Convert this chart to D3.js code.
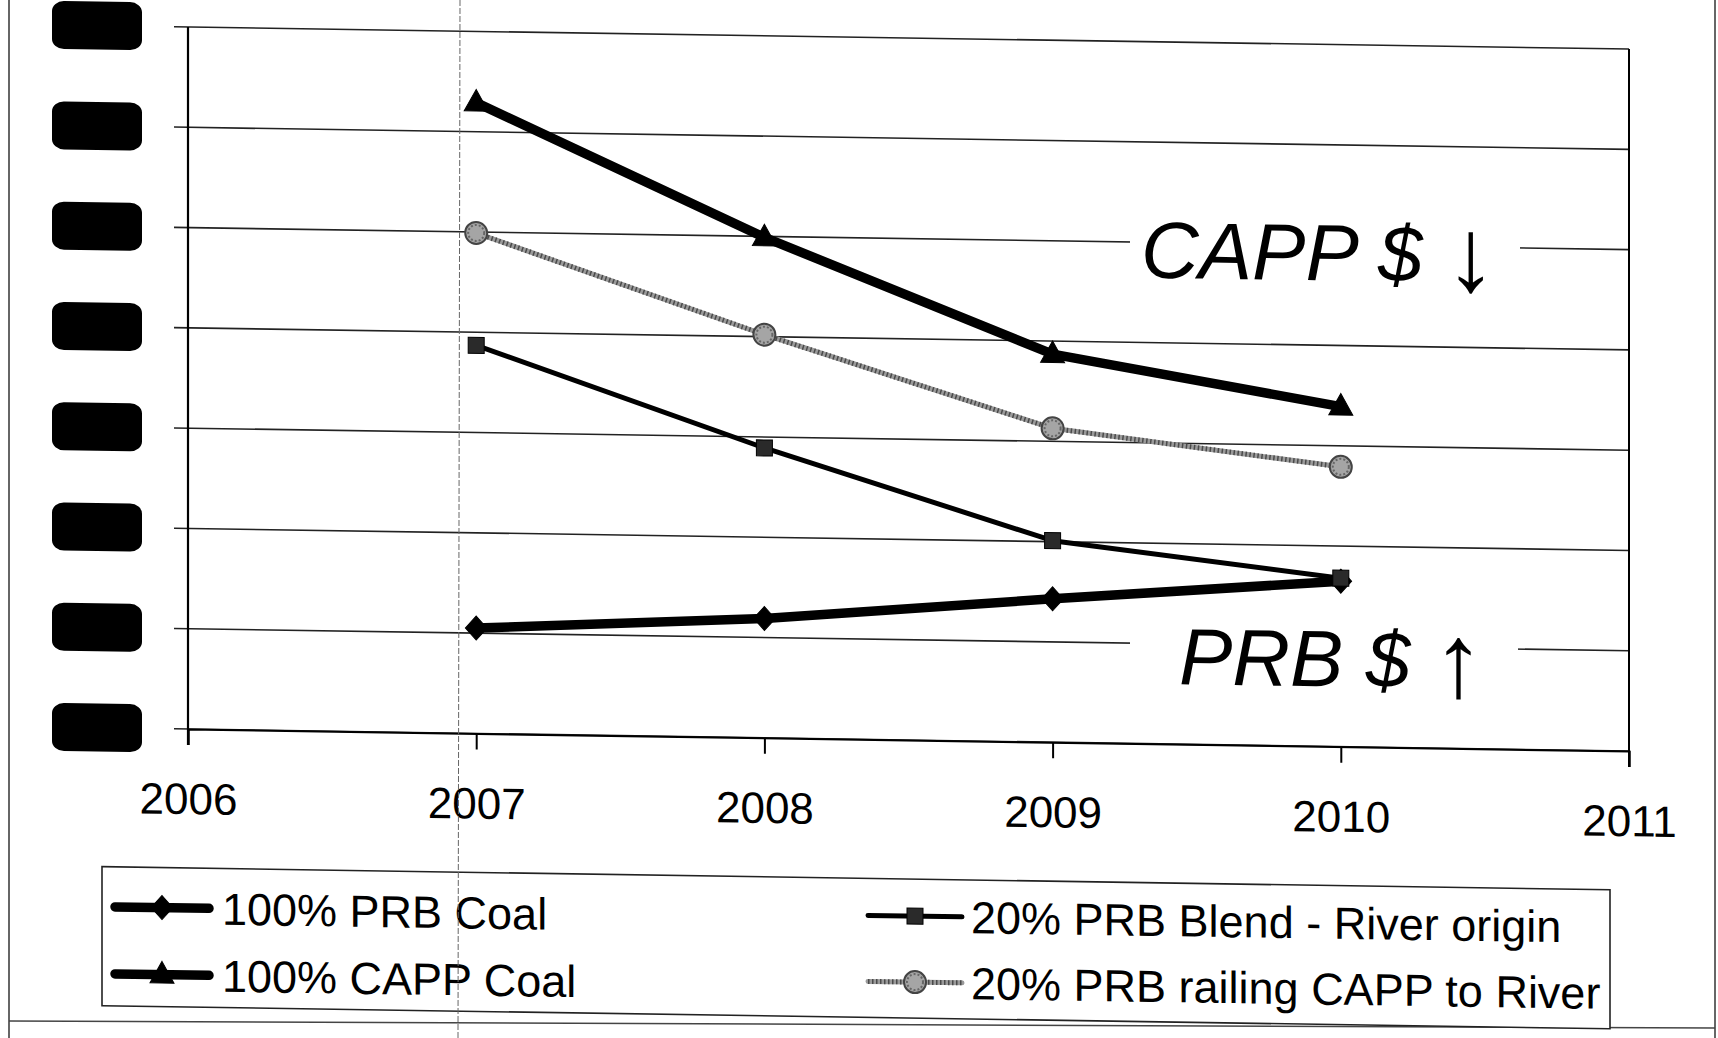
<!DOCTYPE html>
<html><head><meta charset="utf-8">
<script src="https://cdn.jsdelivr.net/npm/d3@7"></script>
<style>html,body{margin:0;padding:0;background:#fff;overflow:hidden}</style>
</head><body>
<svg id="chart" width="1718" height="1038"></svg>
<script>
// ---- data ----
const years = [2007, 2008, 2009, 2010];
const xTicks = [2006, 2007, 2008, 2009, 2010, 2011];
const yTicks = [0, 1, 2, 3, 4, 5, 6, 7];          // labels redacted in the original
const prbCoal = [1.05, 1.19, 1.43, 1.65];
const cappCoal = [6.29, 4.99, 3.87, 3.39];
const riverBlend = [3.87, 2.89, 2.01, 1.68];
const railBlend = [4.99, 4.02, 3.13, 2.79];
const seriesNames = ["100% PRB Coal", "100% CAPP Coal", "20% PRB Blend - River origin", "20% PRB railing CAPP to River"];
const noteCapp = ["CAPP $ ", "\u2193"];
const notePrb = ["PRB $ ", "\u2191"];

// ---- layout ----
const FONT = "'Liberation Sans', Arial, Helvetica, sans-serif";
const L = 188, R = 1629, T = 27, B = 729;
const slope = 0.0153;
const deg = Math.atan(slope) * 180 / Math.PI;

const svg = d3.select("#chart");
svg.append("rect").attr("width", 1718).attr("height", 1038).attr("fill", "#fff");

const x = d3.scaleLinear().domain([2006, 2011]).range([L, R]);
const y = d3.scaleLinear().domain([0, 7]).range([B, T]);

// scan artefacts (page edges, fold)
svg.append("line").attr("x1", 9).attr("x2", 9).attr("y1", 0).attr("y2", 1038).attr("stroke", "#333").attr("stroke-width", 1.5);
svg.append("line").attr("x1", 1715).attr("x2", 1715).attr("y1", 0).attr("y2", 1038).attr("stroke", "#333").attr("stroke-width", 1.5);
svg.append("line").attr("x1", 9).attr("x2", 1715).attr("y1", 1021).attr("y2", 1028).attr("stroke", "#444").attr("stroke-width", 1.5);

// skewed group (scan is slightly tilted)
const g = svg.append("g").attr("transform", `translate(0,${-slope * L}) skewY(${deg})`);

// redaction blobs for y tick labels
g.append("g").selectAll("rect").data(yTicks).join("rect")
  .attr("x", 52).attr("width", 90)
  .attr("y", d => y(d) - 24).attr("height", 48)
  .attr("rx", 12).attr("ry", 10).attr("fill", "#000");

// gridlines (extend left as tick marks)
g.append("g").selectAll("line").data(yTicks).join("line")
  .attr("x1", L - 14).attr("x2", R)
  .attr("y1", d => y(d)).attr("y2", d => y(d))
  .attr("stroke", "#222").attr("stroke-width", 1.6);

// x axis
const xAxis = d3.axisBottom(x).tickValues(xTicks).tickFormat(d3.format("d")).tickSize(16).tickPadding(38);
const xg = g.append("g").attr("transform", `translate(0,${B})`).call(xAxis);
xg.select(".domain").attr("stroke", "#000").attr("stroke-width", 2);
xg.selectAll(".tick line").attr("stroke", "#000").attr("stroke-width", 2);
xg.selectAll(".tick text").attr("font-family", FONT).attr("font-size", 44).attr("fill", "#000");

// y axis line and right border
g.append("line").attr("x1", L).attr("x2", L).attr("y1", T).attr("y2", B + 16).attr("stroke", "#000").attr("stroke-width", 2.2);
g.append("line").attr("x1", R).attr("x2", R).attr("y1", T).attr("y2", B + 16).attr("stroke", "#000").attr("stroke-width", 2);

// annotation boxes + text
function note(parts, tx, ty, box) {
  g.append("rect").attr("x", box[0]).attr("y", box[1]).attr("width", box[2]).attr("height", box[3]).attr("fill", "#fff");
  const t = g.append("text").attr("x", tx).attr("y", ty).attr("font-family", FONT)
    .attr("font-size", 80).attr("font-style", "italic").attr("fill", "#000");
  t.append("tspan").text(parts[0]);
  t.append("tspan").attr("font-style", "normal").attr("font-size", 104).attr("dy", 8).text(parts[1]);
}
note(noteCapp, 1141, 263, [1130, 185, 390, 118]);
note(notePrb, 1179, 669, [1130, 590, 388, 112]);

// symbols
const symbols = {
  diamond: s => `M0,${-s}L${s * 0.9},0L0,${s}L${-s * 0.9},0Z`,
  triangle: s => `M0,${-s * 1.1}L${s},${s * 0.7}L${-s},${s * 0.7}Z`,
  square: s => `M${-s},${-s}H${s}V${s}H${-s}Z`
};

const series = [
  { name: seriesNames[0], values: prbCoal, stroke: "#000", width: 9.5, sym: "diamond", size: 12, fill: "#000" },
  { name: seriesNames[1], values: cappCoal, stroke: "#000", width: 9.5, sym: "triangle", size: 12, fill: "#000" },
  { name: seriesNames[2], values: riverBlend, stroke: "#000", width: 5, sym: "square", size: 8, fill: "#2a2a2a" },
  { name: seriesNames[3], values: railBlend, stroke: "#9a9a9a", width: 5, sym: "circle", size: 11, fill: "#a5a5a5", dots: true }
];

const line = d3.line().x((d, i) => x(years[i])).y(d => y(d));

function drawMarker(sel, s) {
  if (s.sym === "circle") {
    sel.append("circle").attr("r", s.size).attr("fill", s.fill).attr("stroke", "#444").attr("stroke-width", 2);
    sel.append("circle").attr("r", s.size - 3).attr("fill", "none").attr("stroke", "#666").attr("stroke-width", 2).attr("stroke-dasharray", "2,2");
  } else {
    sel.append("path").attr("d", symbols[s.sym](s.size)).attr("fill", s.fill).attr("stroke", "#000").attr("stroke-width", 1);
  }
}

series.forEach(s => {
  const sg = g.append("g");
  sg.append("path").datum(s.values).attr("d", line).attr("fill", "none")
    .attr("stroke", s.stroke).attr("stroke-width", s.width).attr("stroke-linejoin", "round");
  if (s.dots) {
    sg.append("path").datum(s.values).attr("d", line).attr("fill", "none")
      .attr("stroke", "#4a4a4a").attr("stroke-width", 5).attr("stroke-dasharray", "1.5,2.5");
  }
  sg.selectAll("g.m").data(s.values).join("g").attr("class", "m")
    .attr("transform", (d, i) => `translate(${x(years[i])},${y(d)})`)
    .each(function () { drawMarker(d3.select(this), s); });
});

// legend
const lg = g.append("g");
lg.append("rect").attr("x", 102).attr("y", 868).attr("width", 1508).attr("height", 139)
  .attr("fill", "#fff").attr("stroke", "#222").attr("stroke-width", 1.6);
const legendPos = [
  { sx: 115, tx: 222, cy: 908 },
  { sx: 115, tx: 222, cy: 975 },
  { sx: 868, tx: 971, cy: 905 },
  { sx: 868, tx: 971, cy: 971 }
];
series.forEach((s, i) => {
  const p = legendPos[i];
  const it = lg.append("g");
  it.append("line").attr("x1", p.sx).attr("x2", p.sx + 94).attr("y1", p.cy).attr("y2", p.cy)
    .attr("stroke", s.stroke).attr("stroke-width", s.width).attr("stroke-linecap", "round");
  if (s.dots) it.append("line").attr("x1", p.sx).attr("x2", p.sx + 94).attr("y1", p.cy).attr("y2", p.cy)
    .attr("stroke", "#4a4a4a").attr("stroke-width", 5).attr("stroke-dasharray", "1.5,2.5");
  const m = it.append("g").attr("transform", `translate(${p.sx + 47},${p.cy})`);
  drawMarker(m, s);
  it.append("text").attr("x", p.tx).attr("y", p.cy).attr("dy", "0.36em")
    .attr("font-family", FONT).attr("font-size", 45).attr("fill", "#000").text(s.name);
});

// fold line in the scan
svg.append("line").attr("x1", 460).attr("x2", 458).attr("y1", 0).attr("y2", 1038)
  .attr("stroke", "#666").attr("stroke-width", 1).attr("stroke-dasharray", "6,2");
</script>
</body></html>
